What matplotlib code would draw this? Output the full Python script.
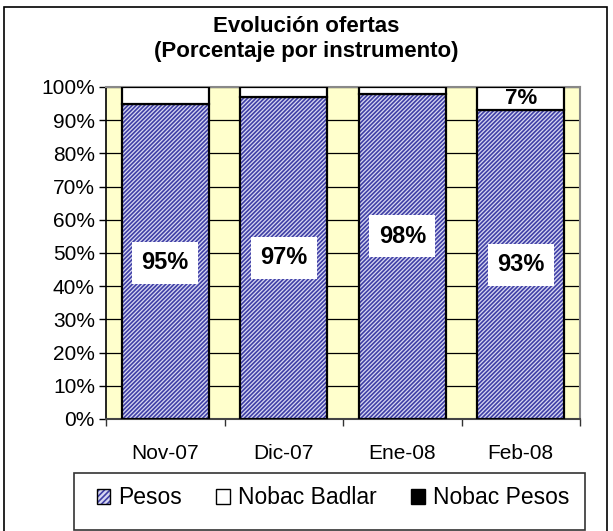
import matplotlib
matplotlib.use("Agg")
import matplotlib.pyplot as plt
from matplotlib.patches import Patch, Rectangle
from matplotlib.legend_handler import HandlerTuple
from matplotlib.ticker import MultipleLocator, FuncFormatter

plt.rcParams['font.family'] = ['Liberation Sans', 'DejaVu Sans']
plt.rcParams['hatch.linewidth'] = 1.2

categories = ["Nov-07", "Dic-07", "Ene-08", "Feb-08"]
pesos = [95, 97, 98, 93]
nobac_badlar = [5, 3, 2, 7]
nobac_pesos = [0, 0, 0, 0]
series_names = ["Pesos", "Nobac Badlar", "Nobac Pesos"]
pesos_labels = ["95%", "97%", "98%", "93%"]
badlar_labels = ["", "", "", "7%"]
# label vertical positions (style, % axis units)
pesos_label_pos = [47, 48.5, 55, 46.5]

W, H = 613, 531
fig = plt.figure(figsize=(W / 100, H / 100), dpi=100)

def fx(px):
    return px / W

def fy(py):
    return 1 - py / H

left, right, top, bottom = 106, 580, 87, 419
ax = fig.add_axes([fx(left), fy(bottom), fx(right) - fx(left), fy(top) - fy(bottom)])
ax.set_facecolor('#ffffcc')

x = list(range(len(categories)))
bw = 0.73
hatch_col = '#4040a6'
face_col = '#d8d8f2'
HATCH = '/' * 8

# Pesos hatched
ax.bar(x, pesos, width=bw, color=face_col, edgecolor=hatch_col, hatch=HATCH, linewidth=0, zorder=3)
ax.bar(x, pesos, width=bw, fill=False, edgecolor='black', linewidth=1.6, zorder=4)
# Nobac Badlar white
ax.bar(x, nobac_badlar, bottom=pesos, width=bw, color='white', edgecolor='black', linewidth=1.6, zorder=4)
# Nobac Pesos black
tops = [p + b for p, b in zip(pesos, nobac_badlar)]
ax.bar(x, nobac_pesos, bottom=tops, width=bw, color='black', edgecolor='black', linewidth=0, zorder=4)

ax.set_xlim(-0.5, len(categories) - 0.5)
ax.set_ylim(0, 100)
ax.yaxis.set_major_locator(MultipleLocator(10))
ax.yaxis.set_major_formatter(FuncFormatter(lambda v, p: f"{int(round(v))}%"))
ax.grid(axis='y', color='black', linewidth=0.9, zorder=1)
ax.set_axisbelow(True)

ax.set_xticks(x)
ax.set_xticklabels(categories)
ax.set_xticks([i - 0.5 for i in range(len(categories) + 1)], minor=True)
ax.tick_params(axis='x', which='major', length=0, pad=18, labelsize=15)
ax.tick_params(axis='x', which='minor', length=5, width=1, direction='out', color='#333333')
ax.tick_params(axis='y', length=5, width=1, direction='out', labelsize=15, pad=3)

ax.spines['left'].set_color('black')
ax.spines['left'].set_linewidth(1.2)
ax.spines['bottom'].set_color('#444444')
ax.spines['bottom'].set_linewidth(1.5)
for s in ['top', 'right']:
    ax.spines[s].set_color('#888888')
    ax.spines[s].set_linewidth(1.5)

for i, (lab, pos) in enumerate(zip(pesos_labels, pesos_label_pos)):
    ax.text(x[i], pos, lab, ha='center', va='center', fontsize=17, fontweight='bold', zorder=6,
            bbox=dict(boxstyle='square,pad=0.4', facecolor='white', edgecolor='none'))
for i, lab in enumerate(badlar_labels):
    if lab:
        ax.text(x[i], pesos[i] + nobac_badlar[i] / 2, lab, ha='center', va='center',
                fontsize=16, fontweight='bold', zorder=6)

fig.text(0.5, fy(26), "Evolución ofertas", ha='center', va='center', fontsize=16, fontweight='bold')
fig.text(0.5, fy(52), "(Porcentaje por instrumento)", ha='center', va='center', fontsize=16, fontweight='bold')

# outer border
fig.patches.append(Rectangle((fx(4), -0.05), fx(607) - fx(4), fy(7) + 0.05, transform=fig.transFigure,
                             fill=False, edgecolor='black', linewidth=1.2))
# legend box
fig.patches.append(Rectangle((fx(74), fy(530)), fx(585) - fx(74), fy(473) - fy(530), transform=fig.transFigure,
                             fill=False, edgecolor='#333333', linewidth=1.2))

h_pesos = (Patch(facecolor=face_col, edgecolor=hatch_col, hatch='/' * 6, linewidth=0),
           Patch(fill=False, edgecolor='black', linewidth=1))
h_badlar = Patch(facecolor='white', edgecolor='black', linewidth=1)
h_nobacp = Patch(facecolor='black', edgecolor='black', linewidth=1)
fig.legend([h_pesos, h_badlar, h_nobacp], series_names, handler_map={tuple: HandlerTuple(ndivide=1)},
           loc='center', bbox_to_anchor=(fx(333), fy(498)), ncol=3, frameon=False, fontsize=16.5,
           handlelength=0.6, handleheight=0.6, handletextpad=0.35, columnspacing=1.5)

fig.savefig("out.png", dpi=100)
